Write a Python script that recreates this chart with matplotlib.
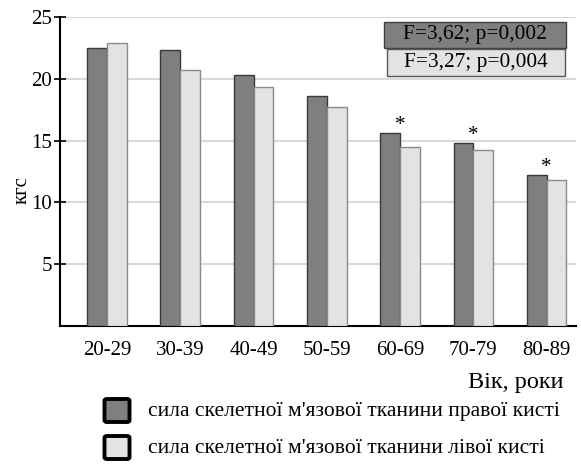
import numpy as np
import matplotlib.pyplot as plt
from matplotlib.patches import Rectangle, FancyBboxPatch

plt.rcParams['font.family'] = ['Liberation Serif', 'DejaVu Serif']

age_groups = ['20-29', '30-39', '40-49', '50-59', '60-69', '70-79', '80-89']
right_hand = [22.5, 22.3, 20.3, 18.6, 15.6, 14.8, 12.2]
left_hand = [22.9, 20.7, 19.3, 17.7, 14.5, 14.2, 11.8]
significant = [False, False, False, False, True, True, True]
yticks = [5, 10, 15, 20, 25]
stats_right = 'F=3,62; p=0,002'
stats_left = 'F=3,27; p=0,004'
legend_right = "сила скелетної м'язової тканини правої кисті"
legend_left = "сила скелетної м'язової тканини лівої кисті"

DARK = '#7f7f7f'
LIGHT = '#e3e3e3'
W, H = 581, 465


def fx(px):
    return px / W


def fy(py):
    return 1 - py / H


fig = plt.figure(figsize=(W / 100, H / 100), dpi=100)
ax = fig.add_axes([fx(60), fy(326), 516 / W, 309 / H])

x = np.arange(len(age_groups))
w = 0.27
ax.bar(x - w / 2, right_hand, w, color=DARK, edgecolor='#3a3a3a', lw=1.0, zorder=3)
ax.bar(x + w / 2, left_hand, w, color=LIGHT, edgecolor='#8a8a8a', lw=1.0, zorder=3)

for xi, v, s in zip(x, right_hand, significant):
    if s:
        ax.annotate('*', (xi, v), xytext=(0, 2.5), textcoords='offset points',
                    ha='center', va='baseline', fontsize=15)

ax.set_xlim(-0.64, 6.4)
ax.set_ylim(0, 25)
ax.set_yticks(yticks)
ax.set_xticks(x)
ax.set_xticklabels(age_groups)
ax.grid(axis='y', color='#d9d9d9', lw=1.5, zorder=0)
ax.tick_params(axis='y', direction='inout', length=9, width=1.2, labelsize=15, pad=1)
ax.tick_params(axis='x', length=0, labelsize=15, pad=11)
for side in ['top', 'right']:
    ax.spines[side].set_visible(False)
for side in ['left', 'bottom']:
    ax.spines[side].set_linewidth(1.5)
ax.set_ylabel('кгс', fontsize=15, labelpad=0)
ax.yaxis.set_label_coords(-0.054, 0.44)

# F-test boxes in the upper right corner
fig.patches.append(Rectangle((fx(384), fy(48)), 182 / W, 26 / H, transform=fig.transFigure,
                             fc=DARK, ec='#404040', lw=1.0))
fig.patches.append(Rectangle((fx(387), fy(76)), 178 / W, 27 / H, transform=fig.transFigure,
                             fc=LIGHT, ec='#555555', lw=1.0))
fig.text(fx(475), fy(35), stats_right, ha='center', va='center', fontsize=15.4)
fig.text(fx(476), fy(62.5), stats_left, ha='center', va='center', fontsize=15.4)

fig.text(fx(563), fy(382), 'Вік, роки', ha='right', va='center', fontsize=17.5)

# legend swatches
for yc, fc, label in [(410.5, DARK, legend_right), (447.5, LIGHT, legend_left)]:
    sq = FancyBboxPatch((fx(104.5), fy(yc + 11.5)), 25 / W, 23 / H,
                        boxstyle='round,pad=0,rounding_size=0.004',
                        transform=fig.transFigure, fc=fc, ec='black', lw=2.8)
    fig.patches.append(sq)
    fig.text(fx(148), fy(yc + 1), label, ha='left', va='center', fontsize=15.5)

fig.savefig('out.png', dpi=100)
